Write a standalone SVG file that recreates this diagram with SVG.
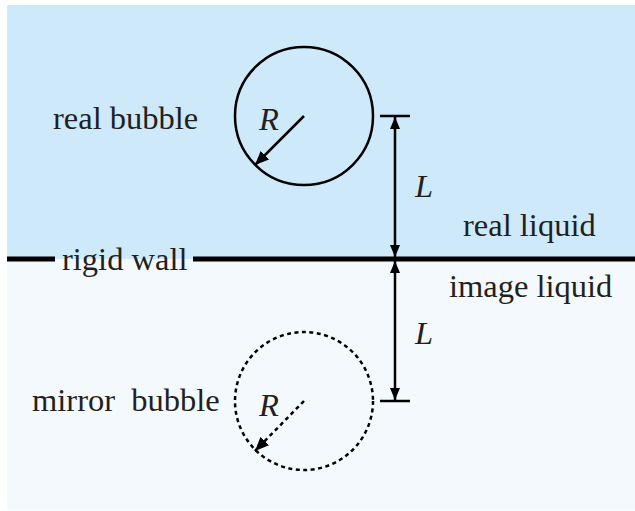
<svg xmlns="http://www.w3.org/2000/svg" width="635" height="511" viewBox="0 0 635 511">
<style>
.t{font-family:"Liberation Serif","Times New Roman",serif;font-size:32.5px;fill:#231f20;white-space:pre}
.i{font-style:italic}
.s{stroke:#000;stroke-width:2.5;fill:none}
.d{stroke-dasharray:4,3.5}
</style>
<defs>
<marker id="ah" viewBox="0 0 12 10" refX="12" refY="5" markerWidth="12" markerHeight="10" markerUnits="userSpaceOnUse" orient="auto">
<path d="M0,0 L12,5 L0,10 Z" fill="#000"/>
</marker>
<marker id="ah2" viewBox="0 0 14 12" refX="14" refY="6" markerWidth="14" markerHeight="12" markerUnits="userSpaceOnUse" orient="auto">
<path d="M0,0 L14,6 L0,12 Z" fill="#000"/>
</marker>
</defs>
<g id="background">
<rect x="7" y="5" width="628" height="254" fill="#cde9fa"/>
<rect x="7" y="259" width="628" height="251" fill="#f3f9fc"/>
</g>
<g id="real-bubble">
<circle class="s" cx="304" cy="116" r="69"/>
<text class="t i" x="259" y="130">R</text>
<text class="t" x="53" y="129">real bubble</text>
</g>
<g id="mirror-bubble">
<circle class="s d" cx="304" cy="401" r="69"/>
<text class="t i" x="259" y="416">R</text>
<text class="t" x="32" y="411" xml:space="preserve">mirror  bubble</text>
</g>
<g id="wall">
<line x1="7" y1="259" x2="55" y2="259" stroke="#000" stroke-width="5"/>
<line x1="193" y1="259" x2="635" y2="259" stroke="#000" stroke-width="5"/>
<text class="t" x="62" y="270">rigid wall</text>
</g>
<g id="labels">
<text class="t" x="463" y="236">real liquid</text>
<text class="t" x="449" y="297">image liquid</text>
<text class="t i" x="415" y="197">L</text>
<text class="t i" x="415" y="344">L</text>
</g>
<g id="connectors">
<line class="s" x1="304" y1="116" x2="255" y2="165" marker-end="url(#ah2)"/>
<line class="s d" x1="304" y1="401" x2="255" y2="451" marker-end="url(#ah2)"/>
<line class="s" x1="380" y1="116" x2="410" y2="116"/>
<line class="s" x1="380" y1="401" x2="410" y2="401"/>
<line class="s" x1="395" y1="187" x2="395" y2="117" marker-end="url(#ah)"/>
<line class="s" x1="395" y1="187" x2="395" y2="257" marker-end="url(#ah)"/>
<line class="s" x1="395" y1="330" x2="395" y2="261" marker-end="url(#ah)"/>
<line class="s" x1="395" y1="330" x2="395" y2="400" marker-end="url(#ah)"/>
</g>
</svg>
